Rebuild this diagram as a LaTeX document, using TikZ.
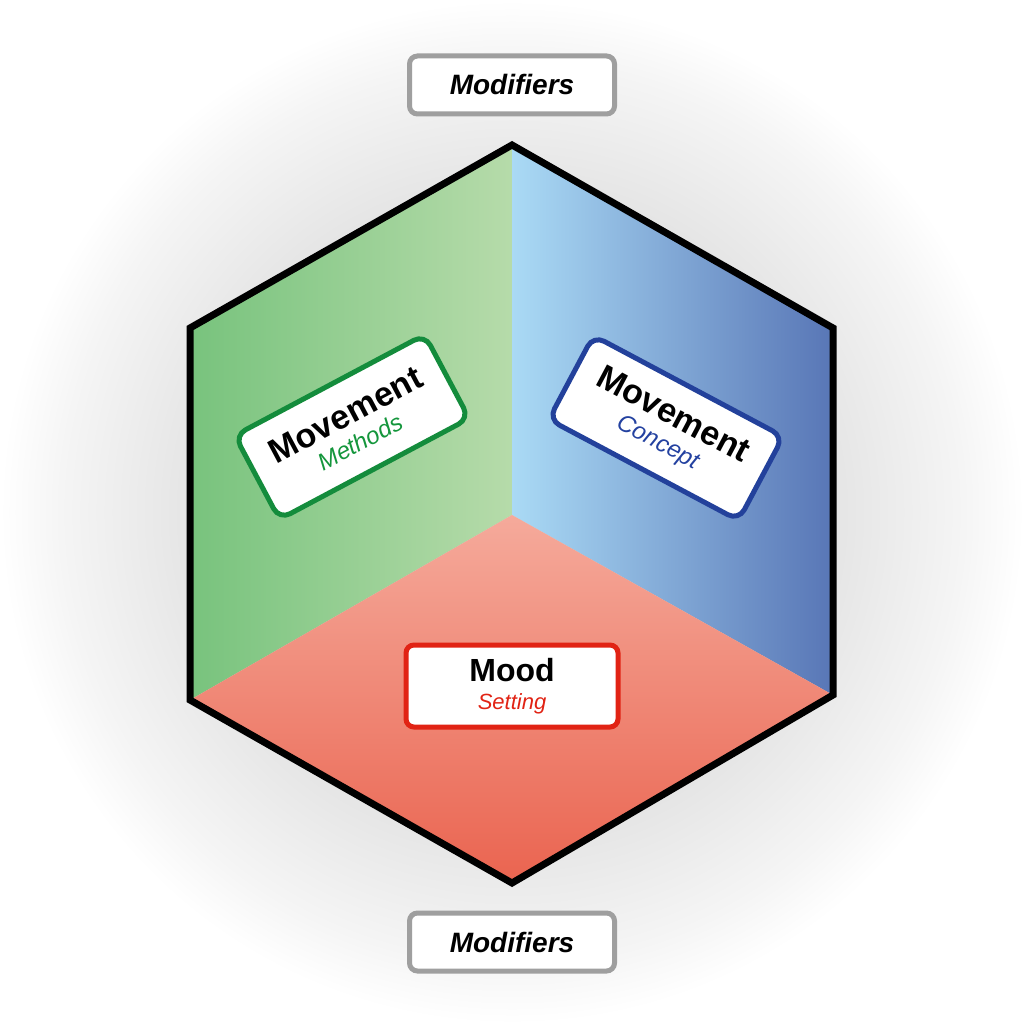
\documentclass[tikz,border=0pt]{standalone}
\usepackage{fontspec}
\setmainfont{Liberation Sans}
\pgfdeclareradialshading{halo}{\pgfpoint{0bp}{0bp}}{color(0bp)=(black!12); color(14bp)=(black!12); color(22bp)=(black!4); color(25bp)=(white); color(50bp)=(white)}
\begin{document}
\begin{tikzpicture}[x=1pt,y=-1pt,
 lab/.style={draw,line width=5pt,rounded corners=12pt,fill=white,align=center,inner sep=0pt,font=\fontsize{32}{34}\selectfont},
 mod/.style={draw=gray!75,line width=5pt,rounded corners=8pt,fill=white,minimum width=205pt,minimum height=58pt,font=\fontsize{28}{30}\selectfont\bfseries\itshape}]
\useasboundingbox (0,0) rectangle (1024,1024);
\shade[shading=halo] (0,0) rectangle (1024,1024);
\coordinate (T) at (512,145); \coordinate (UL) at (190,328); \coordinate (LL) at (190,700);
\coordinate (B) at (512,883); \coordinate (LR) at (833,695); \coordinate (UR) at (833,328);
\coordinate (C) at (512,515);
\shade[left color={rgb,255:red,120;green,195;blue,125},right color={rgb,255:red,182;green,219;blue,170}] (T)--(UL)--(LL)--(C)--cycle;
\shade[left color={rgb,255:red,170;green,218;blue,245},right color={rgb,255:red,88;green,118;blue,182}] (T)--(C)--(LR)--(UR)--cycle;
\shade[top color={rgb,255:red,245;green,170;blue,155},bottom color={rgb,255:red,234;green,100;blue,80}] (C)--(LL)--(B)--(LR)--cycle;
\draw[line width=7pt,line join=miter] (T)--(UL)--(LL)--(B)--(LR)--(UR)--cycle;
\node[lab,draw={rgb,255:red,20;green,140;blue,60},minimum width=215pt,minimum height=95pt,rotate=28] (mm) at (352,427)
 {{\fontsize{34}{36}\selectfont\bfseries Movement}\\[-6pt]{\fontsize{24}{26}\selectfont\itshape\color[RGB]{20,150,60}Methods}};
\node[lab,draw={rgb,255:red,35;green,65;blue,155},minimum width=215pt,minimum height=95pt,rotate=-28] (mc) at (666,428)
 {{\fontsize{34}{36}\selectfont\bfseries Movement}\\[-6pt]{\fontsize{24}{26}\selectfont\itshape\color[RGB]{35,65,160}Concept}};
\node[lab,draw={rgb,255:red,225;green,35;blue,20},rounded corners=8pt,minimum width=212pt,minimum height=82pt] (ms) at (512,686)
 {{\fontsize{32}{34}\selectfont\bfseries Mood}\\[-6pt]{\fontsize{22}{24}\selectfont\itshape\color[RGB]{225,35,20}Setting}};
\node[mod] (m1) at (512,85) {Modifiers};
\node[mod] (m2) at (512,942) {Modifiers};
\end{tikzpicture}
\end{document}
